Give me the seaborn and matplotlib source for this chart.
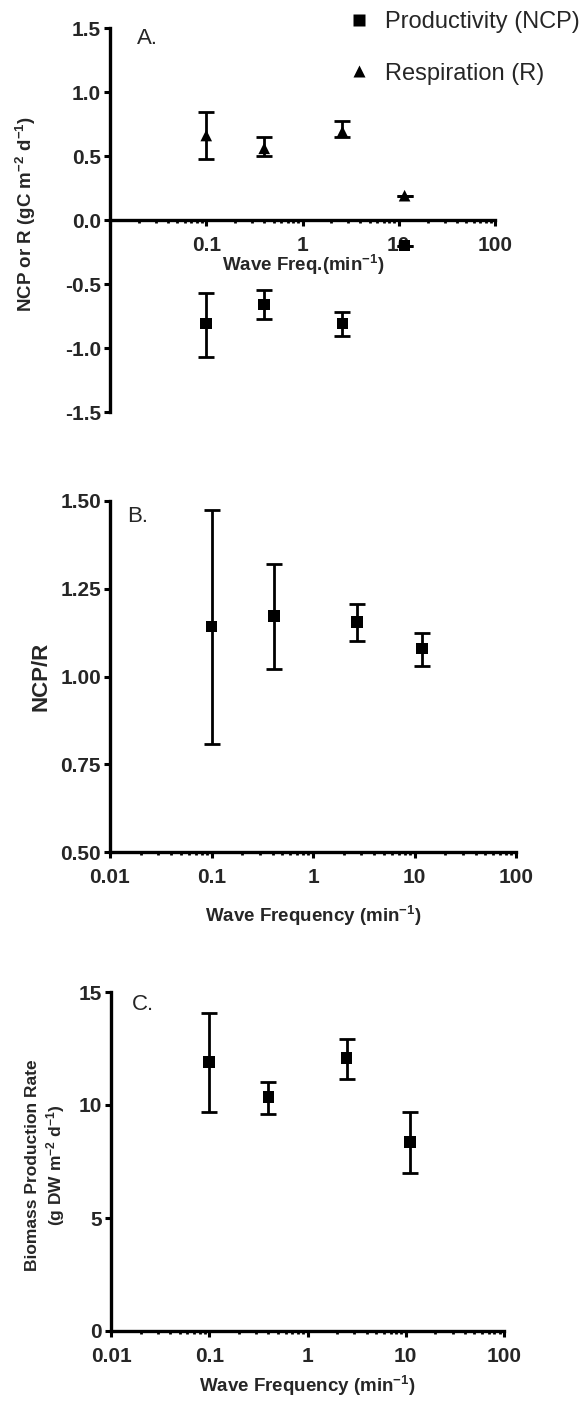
import numpy as np
import pandas as pd
import matplotlib
matplotlib.use("Agg")
import matplotlib.pyplot as plt
import seaborn as sns
from matplotlib.ticker import LogLocator, FixedLocator, NullFormatter

# ---------------- data ----------------
freq_A = [0.1, 0.4, 2.6, 11.5]
ncp = [-0.81, -0.66, -0.81, -0.20]
ncp_err_lo = [0.26, 0.11, 0.10, 0.0]
ncp_err_hi = [0.24, 0.11, 0.09, 0.0]
resp = [0.66, 0.56, 0.69, 0.19]
resp_err_lo = [0.18, 0.06, 0.04, 0.0]
resp_err_hi = [0.18, 0.09, 0.08, 0.0]

freq_B = [0.1, 0.41, 2.7, 11.8]
ratio = [1.142, 1.173, 1.156, 1.080]
ratio_err_lo = [0.335, 0.153, 0.054, 0.049]
ratio_err_hi = [0.332, 0.148, 0.051, 0.045]

freq_C = [0.1, 0.4, 2.5, 11.0]
biomass = [11.9, 10.35, 12.08, 8.36]
bio_err_lo = [2.21, 0.75, 0.93, 1.37]
bio_err_hi = [2.17, 0.65, 0.82, 1.33]

series_names = ["Productivity (NCP)", "Respiration (R)"]
xtick_vals = [0.01, 0.1, 1, 10, 100]
xtick_labels = ["0.01", "0.1", "1", "10", "100"]

# ---------------- style ----------------
sns.set_theme(style="ticks")
plt.rcParams["font.family"] = ["Liberation Sans", "DejaVu Sans"]
plt.rcParams["mathtext.fontset"] = "custom"
plt.rcParams["mathtext.bf"] = "Liberation Sans:bold"
plt.rcParams["mathtext.rm"] = "Liberation Sans:bold"
plt.rcParams["mathtext.default"] = "bf"

W, H = 583, 1402
fig = plt.figure(figsize=(W / 100, H / 100), dpi=100)

TICK_FS = 15


def rect(l, r, t, b):
    return [l / W, 1 - b / H, (r - l) / W, (b - t) / H]


def style_ax(ax):
    for s in ["top", "right"]:
        ax.spines[s].set_visible(False)
    for s in ["left", "bottom"]:
        ax.spines[s].set_linewidth(2.4)
        ax.spines[s].set_color("black")
    ax.set_xscale("log")
    ax.set_xlim(0.01, 100)
    ax.xaxis.set_major_locator(FixedLocator(xtick_vals))
    ax.xaxis.set_minor_locator(LogLocator(base=10, subs=np.arange(2, 10)))
    ax.xaxis.set_minor_formatter(NullFormatter())
    ax.tick_params(axis="both", which="major", direction="out", length=4.5,
                   width=2.2, color="black", labelsize=TICK_FS, pad=2)
    ax.tick_params(axis="x", which="minor", direction="out", length=2.5,
                   width=2.0, color="black")
    ax.tick_params(axis="x", which="major", pad=7)
    ax.grid(False)


def errbars(ax, x, y, lo, hi):
    ax.errorbar(x, y, yerr=[lo, hi], fmt="none", ecolor="black",
                elinewidth=2.0, capsize=6, capthick=2.0, zorder=2)


# ---------------- panel A ----------------
axA = fig.add_axes(rect(110, 495, 28, 412))
dfA = pd.DataFrame({
    "freq": freq_A + freq_A,
    "value": ncp + resp,
    "series": [series_names[0]] * len(freq_A) + [series_names[1]] * len(freq_A),
})
errbars(axA, freq_A, ncp, ncp_err_lo, ncp_err_hi)
errbars(axA, freq_A, resp, resp_err_lo, resp_err_hi)
sns.scatterplot(data=dfA, x="freq", y="value", style="series",
                markers={series_names[0]: "s", series_names[1]: "^"},
                color="black", edgecolor="none", s=70, ax=axA, zorder=3,
                legend=True)
style_ax(axA)
axA.spines["bottom"].set_position(("data", 0))
axA.set_ylim(-1.5, 1.5)
axA.set_yticks([-1.5, -1.0, -0.5, 0.0, 0.5, 1.0, 1.5])
axA.set_yticklabels(["-1.5", "-1.0", "-0.5", "0.0", "0.5", "1.0", "1.5"],
                    fontweight="bold")
axA.set_xticks(xtick_vals)
axA.set_xticklabels([""] + xtick_labels[1:], fontweight="bold")
axA.set_xlabel(r"Wave Freq.(min$^{-1}$)", fontsize=13.5, fontweight="bold")
axA.xaxis.set_label_coords((303 - 110) / 385, (412 - 253) / 384)
axA.set_ylabel(r"NCP or R (gC m$^{-2}$ d$^{-1}$)", fontsize=13.5,
               fontweight="bold")
axA.yaxis.set_label_coords((38 - 110) / 385, (412 - 214) / 384)
axA.text(137 / W, 1 - 38 / H, "A.", transform=fig.transFigure, fontsize=16,
         va="center", ha="left")
sns.move_legend(axA, "upper left", bbox_to_anchor=(347 / W, 1 - 11 / H),
                bbox_transform=fig.transFigure, frameon=False, title=None,
                fontsize=17, labelspacing=1.25, handletextpad=0.6,
                handlelength=1.0, markerscale=1.05, borderaxespad=0,
                borderpad=0)

# ---------------- panel B ----------------
axB = fig.add_axes(rect(110, 516, 501, 852))
errbars(axB, freq_B, ratio, ratio_err_lo, ratio_err_hi)
sns.scatterplot(x=freq_B, y=ratio, marker="s", color="black", edgecolor="none",
                s=70, ax=axB, zorder=3)
style_ax(axB)
axB.set_ylim(0.5, 1.5)
axB.set_yticks([0.5, 0.75, 1.0, 1.25, 1.5])
axB.set_yticklabels(["0.50", "0.75", "1.00", "1.25", "1.50"], fontweight="bold")
axB.set_xticks(xtick_vals)
axB.set_xticklabels(xtick_labels, fontweight="bold")
axB.set_xlabel(r"Wave Frequency (min$^{-1}$)", fontsize=13.5, fontweight="bold")
axB.xaxis.set_label_coords((313 - 110) / 406, (852 - 904) / 351)
axB.set_ylabel("NCP/R", fontsize=16, fontweight="bold")
axB.yaxis.set_label_coords((51 - 110) / 406, 0.5)
axB.text(127 / W, 1 - 516 / H, "B.", transform=fig.transFigure, fontsize=16,
         va="center", ha="left")

# ---------------- panel C ----------------
axC = fig.add_axes(rect(111, 504, 992, 1331))
errbars(axC, freq_C, biomass, bio_err_lo, bio_err_hi)
sns.scatterplot(x=freq_C, y=biomass, marker="s", color="black", edgecolor="none",
                s=70, ax=axC, zorder=3)
style_ax(axC)
axC.set_ylim(0, 15)
axC.set_yticks([0, 5, 10, 15])
axC.set_yticklabels(["0", "5", "10", "15"], fontweight="bold")
axC.set_xticks(xtick_vals)
axC.set_xticklabels(xtick_labels, fontweight="bold")
axC.set_xlabel(r"Wave Frequency (min$^{-1}$)", fontsize=13.5, fontweight="bold")
axC.xaxis.set_label_coords((307 - 111) / 393, (1331 - 1374) / 339)
axC.set_ylabel("Biomass Production Rate\n" + r"(g DW m$^{-2}$ d$^{-1}$)",
               fontsize=12.5, fontweight="bold", linespacing=1.25)
axC.yaxis.set_label_coords((67 - 111) / 393, 0.49)
axC.text(132 / W, 1 - 1005 / H, "C.", transform=fig.transFigure, fontsize=16,
         va="center", ha="left")

fig.savefig("out.png", dpi=100)
